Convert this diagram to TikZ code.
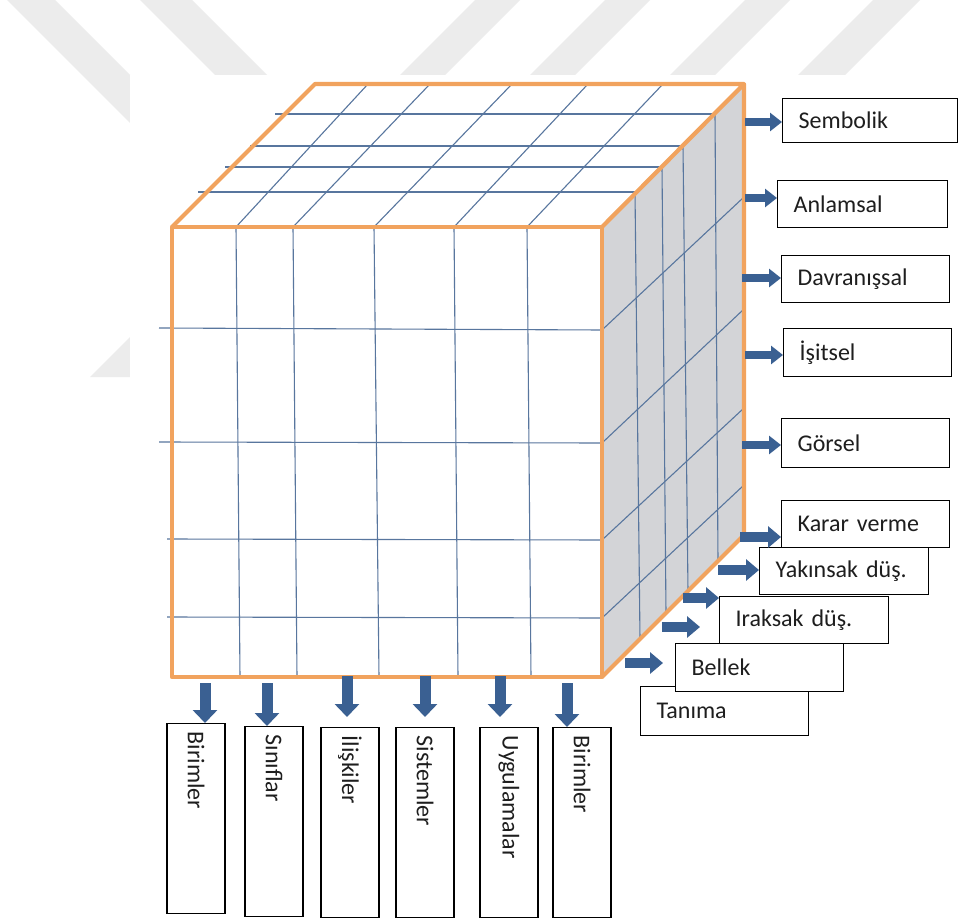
\documentclass[tikz,border=0pt]{standalone}
\usepackage{fontspec}
\setmainfont{Carlito}[WordSpace=0.75]
\usetikzlibrary{arrows.meta}
\definecolor{cubeedge}{RGB}{241,163,94}
\definecolor{gridline}{RGB}{88,118,158}
\definecolor{sideface}{RGB}{211,212,215}
\definecolor{arrowblue}{RGB}{58,96,146}
\definecolor{stripe}{RGB}{236,236,236}
\definecolor{ink}{RGB}{30,30,30}

\begin{document}
\begin{tikzpicture}[x=1pt,y=-1pt,
  edge/.style={draw=cubeedge, line width=4.2pt, line join=round},
  gridl/.style={draw=gridline, line width=1.1pt},
  hbox/.style={draw=black, line width=1.3pt, fill=white, anchor=north west,
    inner xsep=16pt, inner ysep=0pt, align=left, text=ink,
    font=\fontsize{24}{28}\selectfont},
  vbox/.style={draw=black, line width=1.3pt, fill=white, rotate=-90, anchor=west,
    minimum width=190pt, minimum height=58pt, text width=174pt,
    inner xsep=8pt, inner ysep=0pt, align=left, text=ink,
    font=\fontsize{24}{28}\selectfont},
  darrow/.style={draw=arrowblue, line width=11pt, -{Triangle[length=13pt,width=24pt]}},
  rarrow/.style={draw=arrowblue, line width=8pt, -{Triangle[length=12pt,width=18pt]}},
  sarrow/.style={draw=arrowblue, line width=9.5pt, -{Triangle[length=13pt,width=21pt]}}
]
\useasboundingbox (0,0) rectangle (959,920);
\fill[white] (0,0) rectangle (959,920);

% faint diagonal stripes behind the drawing
\fill[stripe] (7,0) -- (55,0) -- (130,75) -- (130,123) -- cycle;
\fill[stripe] (140,0) -- (192,0) -- (267,75) -- (215,75) -- cycle;
\fill[stripe] (475,0) -- (520,0) -- (445,75) -- (400,75) -- cycle;
\fill[stripe] (605,0) -- (650,0) -- (575,75) -- (530,75) -- cycle;
\fill[stripe] (745,0) -- (790,0) -- (715,75) -- (670,75) -- cycle;
\fill[stripe] (873,0) -- (920,0) -- (845,75) -- (798,75) -- cycle;
\fill[stripe] (90,377) -- (130,337) -- (130,377) -- cycle;
% white sheet carrying the drawing
\fill[white] (130,75) rectangle (959,920);

% cube corners
\coordinate (A) at (172,227);
\coordinate (B) at (602,227);
\coordinate (C) at (602,677);
\coordinate (D) at (172,677);
\coordinate (E) at (315,84);
\coordinate (F) at (744,84);
\coordinate (G) at (744,535);

% faces
\fill[white] (A) -- (B) -- (F) -- (E) -- cycle;
\fill[sideface] (B) -- (F) -- (G) -- (C) -- cycle;
\fill[white] (A) -- (B) -- (C) -- (D) -- cycle;

% front face grid
\draw[gridl] (236,227) -- (240,677);
\draw[gridl] (293,227) -- (297,677);
\draw[gridl] (374,227) -- (379,677);
\draw[gridl] (454,227) -- (458,677);
\draw[gridl] (527,227) -- (531,677);
\draw[gridl] (159,328) -- (602,330);
\draw[gridl] (159,442) -- (602,443);
\draw[gridl] (167,539) -- (602,540);
\draw[gridl] (167,617) -- (602,618);

% top face grid
\draw[gridl] (236,227) -- (368,84);
\draw[gridl] (293,227) -- (430,84);
\draw[gridl] (374,227) -- (512,84);
\draw[gridl] (454,227) -- (588,84);
\draw[gridl] (527,227) -- (663,84);
\draw[gridl] (275,114) -- (715,114);
\draw[gridl] (250,146) -- (683,146);
\draw[gridl] (225,167) -- (662,167);
\draw[gridl] (198,192) -- (635,192);

% side face grid
\draw[gridl] (715,114) -- (718,561);
\draw[gridl] (683,146) -- (688,591);
\draw[gridl] (662,167) -- (666,613);
\draw[gridl] (635,192) -- (640,639);
\draw[gridl] (602,330) -- (744,197);
\draw[gridl] (602,443) -- (744,309);
\draw[gridl] (602,540) -- (744,408);
\draw[gridl] (602,618) -- (744,485);

% cube outline
\draw[edge] (A) -- (B) -- (C) -- (D) -- cycle;
\draw[edge] (A) -- (E) -- (F) -- (B);
\draw[edge] (F) -- (G) -- (C);

% right-hand labels
\node[hbox, text width=143pt, minimum height=44pt] (sem) at (782,98) {Sembolik};
\node[hbox, text width=138pt, minimum height=47pt] (anl) at (777,180) {Anlamsal};
\node[hbox, text width=136pt, minimum height=47pt] (dav) at (781,255) {Davranışsal};
\node[hbox, text width=136pt, minimum height=48pt] (isi) at (783,328) {İşitsel};
\node[hbox, text width=136pt, minimum height=49pt] (gor) at (781,418) {Görsel};

% stepped labels, lowest first
\node[hbox, text width=136pt, minimum height=49pt] (tan) at (640,686) {Tanıma};
\node[hbox, text width=136pt, minimum height=48pt] (bel) at (675,643) {Bellek};
\node[hbox, text width=137pt, minimum height=47pt] (ira) at (719,596) {Iraksak düş.};
\node[hbox, text width=137pt, minimum height=47pt] (yak) at (759,547) {Yakınsak düş.};
\node[hbox, text width=136pt, minimum height=47pt] (kar) at (781,500) {Karar verme};

% labels under the cube
\node[vbox] (b1) at (196,723) {Birimler};
\node[vbox] (b2) at (274,726) {Sınıflar};
\node[vbox] (b3) at (350,727) {İlişkiler};
\node[vbox] (b4) at (425,727) {Sistemler};
\node[vbox] (b5) at (509,727) {Uygulamalar};
\node[vbox] (b6) at (582,727) {Birimler};

% arrow start points on the cube
\coordinate (rs1) at (745,122);
\coordinate (rs2) at (745,198);
\coordinate (rs3) at (742,278);
\coordinate (rs4) at (745,355);
\coordinate (rs5) at (742,445);
\coordinate (ss1) at (740,537);
\coordinate (ss2) at (718,570);
\coordinate (ss3) at (683,598);
\coordinate (ss4) at (662,627);
\coordinate (ss5) at (625,663);
\coordinate (se4) at (700,627);
\coordinate (se5) at (663,663);
\coordinate (ds1) at (205,683);
\coordinate (ds2) at (267,683);
\coordinate (ds3) at (347,676);
\coordinate (ds4) at (425,676);
\coordinate (ds5) at (500,676);
\coordinate (ds6) at (567,683);
\coordinate (de3) at (347,717);
\coordinate (de4) at (425,717);
\coordinate (de5) at (500,717);

% arrows
\draw[rarrow] (rs1) -- (rs1 -| sem.west);
\draw[rarrow] (rs2) -- (rs2 -| anl.west);
\draw[rarrow] (rs3) -- (rs3 -| dav.west);
\draw[rarrow] (rs4) -- (rs4 -| isi.west);
\draw[rarrow] (rs5) -- (rs5 -| gor.west);
\draw[sarrow] (ss1) -- (ss1 -| kar.west);
\draw[sarrow] (ss2) -- (ss2 -| yak.west);
\draw[sarrow] (ss3) -- (ss3 -| ira.west);
\draw[sarrow] (ss4) -- (se4);
\draw[sarrow] (ss5) -- (se5);
\draw[darrow] (ds1) -- (ds1 |- b1.west);
\draw[darrow] (ds2) -- (ds2 |- b2.west);
\draw[darrow] (ds3) -- (de3);
\draw[darrow] (ds4) -- (de4);
\draw[darrow] (ds5) -- (de5);
\draw[darrow] (ds6) -- (ds6 |- b6.west);
\end{tikzpicture}
\end{document}
